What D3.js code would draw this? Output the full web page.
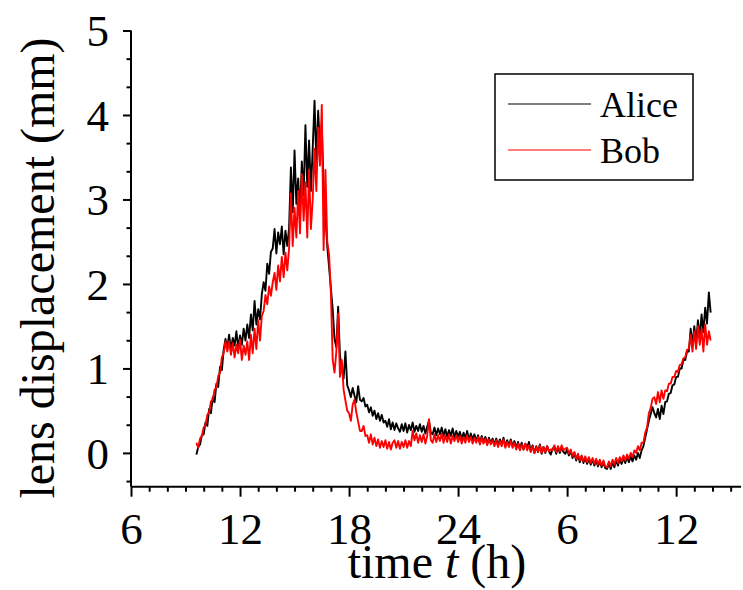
<!DOCTYPE html>
<html>
<head>
<meta charset="utf-8">
<script src="https://cdn.jsdelivr.net/npm/d3@7"></script>
<style>
  html, body { margin: 0; padding: 0; background: #fff; }
  svg { display: block; font-family: "Liberation Serif", "Times New Roman", serif; }
</style>
</head>
<body>
<svg id="chart" width="743" height="590"></svg>
<script>
// ---- data ----
const seriesNames = ["Alice", "Bob"];
const seriesColors = ["#000000", "#ff0000"];
const tStart = 9.6;      // first sample time (h)
const tStep = 0.1;       // sample spacing (h)

const alice = [
  -0.02, 0.07, 0.10, 0.21, 0.22,
  0.36, 0.32, 0.52, 0.47, 0.66, 0.60, 0.82, 0.78, 1.02, 0.98, 1.22, 1.35,
  1.24, 1.40, 1.22, 1.36, 1.27, 1.44, 1.24, 1.39, 1.28, 1.47, 1.33,
  1.52, 1.36, 1.64, 1.45, 1.80, 1.52, 1.70, 1.58,
  1.88, 2.02, 1.92, 2.24, 2.12, 2.38,
  2.42, 2.65, 2.36, 2.61, 2.47, 2.68, 2.35, 2.63, 2.45, 2.66,
  3.38, 2.85, 3.58, 2.95, 3.25, 2.80, 3.45, 3.05, 3.88, 3.15, 3.70, 3.10, 3.60, 4.17,
  3.45, 4.05, 3.60, 3.90,
  3.10, 2.80, 2.45, 2.20, 1.95, 1.70,
  1.35, 1.25, 1.73, 1.15, 1.00, 0.88, 1.20, 0.80,
  0.74, 0.66, 0.77, 0.68, 0.60, 0.79, 0.63, 0.61, 0.65, 0.55,
  0.57, 0.48, 0.54, 0.44, 0.50, 0.40, 0.47, 0.38, 0.45, 0.36,
  0.38, 0.31, 0.40, 0.28, 0.36, 0.27, 0.35, 0.29, 0.25, 0.34,
  0.26, 0.35, 0.24, 0.33, 0.27, 0.36, 0.25, 0.32, 0.26, 0.34,
  0.25, 0.32, 0.23, 0.31, 0.38, 0.24, 0.22, 0.30, 0.21, 0.29,
  0.22, 0.30, 0.20, 0.28, 0.19, 0.27, 0.20, 0.29, 0.18, 0.26,
  0.19, 0.25, 0.16, 0.24, 0.17, 0.26, 0.15, 0.23, 0.16, 0.22,
  0.14, 0.21, 0.12, 0.20, 0.13, 0.19, 0.11, 0.18, 0.12, 0.17,
  0.10, 0.17, 0.09, 0.16, 0.10, 0.18, 0.08, 0.15, 0.09, 0.16,
  0.08, 0.14, 0.06, 0.13, 0.05, 0.12, 0.04, 0.11, 0.06, 0.13,
  0.02, 0.09, 0.00, 0.08, 0.01, 0.10, -0.01, 0.07, 0.00, 0.08,
  0.02, -0.02, 0.05, 0.07, -0.01, 0.06, 0.00, 0.07, 0.01, -0.01,
  0.04, -0.03, 0.02, -0.06, 0.00, -0.09, -0.03, -0.11, -0.04, -0.12,
  -0.06, -0.13, -0.07, -0.14, -0.08, -0.15, -0.09, -0.16, -0.10, -0.17,
  -0.11, -0.18, -0.19, -0.12, -0.19, -0.11, -0.17, -0.09, -0.15, -0.08,
  -0.13, -0.06, -0.12, -0.05, -0.11, -0.04, -0.10, -0.03, -0.08, 0.00,
  -0.06, 0.03, 0.08, 0.18, 0.28, 0.38, 0.46, 0.54, 0.47, 0.42,
  0.52, 0.40, 0.56, 0.46, 0.60, 0.61, 0.70, 0.71, 0.80, 0.81,
  0.90, 0.90, 1.00, 1.00, 1.10, 1.10, 1.20, 1.20, 1.47, 1.28,
  1.50, 1.30, 1.57, 1.36, 1.64, 1.43, 1.72, 1.53, 1.90, 1.66
];

const bob = [
  0.12, 0.06, 0.17, 0.20, 0.30,
  0.33, 0.45, 0.48, 0.61, 0.63, 0.75, 0.77, 0.91, 0.95, 1.13, 1.18, 1.32,
  1.20, 1.32, 1.16, 1.30, 1.13, 1.28, 1.18, 1.34, 1.10, 1.27, 1.16,
  1.32, 1.10, 1.40, 1.18, 1.47, 1.23, 1.57, 1.33,
  1.62, 1.68, 1.87, 1.76, 1.97, 1.86,
  2.02, 2.13, 1.93, 2.22, 2.03, 2.32, 2.08, 2.37, 2.16, 2.42,
  3.07, 2.45, 2.90, 2.55, 3.10, 2.60, 3.30, 2.75, 3.20, 2.55, 3.35, 2.65, 3.00, 3.60,
  3.10, 3.85, 3.40, 4.12,
  2.40, 3.35, 2.50, 2.35, 1.90, 1.10,
  0.95, 1.20, 1.65, 0.90, 1.10, 0.75, 0.62, 0.50,
  0.47, 0.38, 0.57, 0.63, 0.48, 0.37, 0.26, 0.26, 0.32, 0.20,
  0.21, 0.12, 0.22, 0.10, 0.18, 0.08, 0.16, 0.06, 0.14, 0.07,
  0.15, 0.05, 0.13, 0.04, 0.12, 0.15, 0.06, 0.14, 0.05, 0.13,
  0.07, 0.15, 0.06, 0.14, 0.08, 0.26, 0.15, 0.23, 0.12, 0.21,
  0.13, 0.22, 0.11, 0.20, 0.40, 0.15, 0.12, 0.22, 0.13, 0.21,
  0.14, 0.23, 0.12, 0.21, 0.13, 0.22, 0.11, 0.20, 0.14, 0.21,
  0.13, 0.20, 0.11, 0.19, 0.12, 0.21, 0.13, 0.19, 0.11, 0.18,
  0.12, 0.19, 0.10, 0.18, 0.11, 0.17, 0.09, 0.16, 0.10, 0.15,
  0.08, 0.15, 0.07, 0.14, 0.08, 0.16, 0.06, 0.13, 0.07, 0.14,
  0.06, 0.12, 0.04, 0.11, 0.03, 0.10, 0.04, 0.11, 0.03, 0.09,
  0.01, 0.08, 0.00, 0.07, 0.01, 0.09, 0.00, 0.07, 0.01, 0.08,
  0.02, 0.04, 0.03, 0.09, 0.01, 0.08, 0.02, 0.09, 0.03, 0.05,
  0.06, -0.01, 0.04, -0.04, 0.01, -0.07, -0.01, -0.09, -0.03, -0.10,
  -0.04, -0.11, -0.05, -0.12, -0.06, -0.13, -0.07, -0.14, -0.08, -0.15,
  -0.09, -0.16, -0.17, -0.10, -0.16, -0.08, -0.14, -0.06, -0.12, -0.05,
  -0.10, -0.03, -0.09, -0.02, -0.07, 0.00, -0.05, 0.03, 0.00, 0.08,
  0.03, 0.12, 0.12, 0.24, 0.30, 0.47, 0.53, 0.64, 0.66, 0.58,
  0.72, 0.60, 0.74, 0.64, 0.74, 0.73, 0.82, 0.82, 0.90, 0.90,
  0.97, 0.96, 1.04, 1.05, 1.12, 1.13, 1.22, 1.23, 1.40, 1.20,
  1.44, 1.23, 1.50, 1.28, 1.47, 1.20, 1.52, 1.28, 1.44, 1.33
];

const xTickValues = [6, 12, 18, 24, 30, 36];
const xTickLabels = ["6", "12", "18", "24", "6", "12"];
const yTickValues = [0, 1, 2, 3, 4, 5];

(function () {
// ---- layout ----
const svg = d3.select("#chart");
const pL = 131, pR = 741, pT = 30.5, pB = 486.7;

const x = d3.scaleLinear().domain([6, 39.57]).range([pL, pR]);
const y = d3.scaleLinear().domain([-0.4, 5]).range([pB, pT]);

const serifFont = '"Liberation Serif", "Times New Roman", serif';

// minor ticks
const xMinor = d3.range(7, 40).filter(v => v % 6 !== 0);
const yMinor = d3.range(-1, 16).map(k => k / 3).filter(v => v >= -0.4 && Math.abs(v - Math.round(v)) > 1e-6);

// x axis
const gx = svg.append("g").attr("transform", `translate(0,${pB})`);
gx.call(d3.axisBottom(x).tickValues(xTickValues).tickFormat((d, i) => xTickLabels[i]).tickSize(10).tickPadding(15));
gx.append("g").call(d3.axisBottom(x).tickValues(xMinor).tickFormat("").tickSize(5))
  .select(".domain").remove();
gx.selectAll(".domain").attr("d", `M${pL},0H${pR}`);
gx.selectAll("path, line").attr("stroke", "#000").attr("stroke-width", 2);
gx.selectAll("text").attr("font-family", serifFont).attr("font-size", 45).attr("fill", "#000");

// y axis
const gy = svg.append("g").attr("transform", `translate(${pL},0)`);
gy.call(d3.axisLeft(y).tickValues(yTickValues).tickFormat(d3.format("d")).tickSize(8).tickPadding(14));
gy.append("g").call(d3.axisLeft(y).tickValues(yMinor).tickFormat("").tickSize(4.5))
  .select(".domain").remove();
gy.selectAll(".domain").attr("d", `M0,${pT}V${pB}`);
gy.selectAll("path, line").attr("stroke", "#000").attr("stroke-width", 2);
gy.selectAll("text").attr("font-family", serifFont).attr("font-size", 45).attr("fill", "#000").attr("dy", "0.34em");

// lines
const line = d3.line()
  .x((d, i) => x(tStart + i * tStep))
  .y(d => y(d));

[alice, bob].forEach((vals, k) => {
  svg.append("path")
    .datum(vals)
    .attr("fill", "none")
    .attr("stroke", seriesColors[k])
    .attr("stroke-width", 1.9)
    .attr("stroke-linejoin", "round")
    .attr("d", line);
});

// axis titles
const xt = svg.append("text")
  .attr("x", 437).attr("y", 578)
  .attr("text-anchor", "middle")
  .attr("font-family", serifFont).attr("font-size", 48).attr("fill", "#000");
xt.append("tspan").text("time ");
xt.append("tspan").attr("font-style", "italic").text("t");
xt.append("tspan").text(" (h)");

svg.append("text")
  .attr("transform", "translate(54,268) rotate(-90)")
  .attr("text-anchor", "middle")
  .attr("font-family", serifFont).attr("font-size", 48).attr("fill", "#000")
  .text("lens displacement (mm)");

// legend
const lg = svg.append("g");
lg.append("rect").attr("x", 495).attr("y", 74).attr("width", 198).attr("height", 106)
  .attr("fill", "#fff").attr("stroke", "#000").attr("stroke-width", 1.5);
seriesNames.forEach((name, k) => {
  const ly = 104 + k * 46;
  lg.append("line").attr("x1", 508).attr("x2", 591).attr("y1", ly).attr("y2", ly)
    .attr("stroke", seriesColors[k]).attr("stroke-width", 1.2);
  lg.append("text").attr("x", 600).attr("y", ly + 13)
    .attr("font-family", serifFont).attr("font-size", 36).attr("fill", "#000")
    .text(name);
});
})();
</script>
</body>
</html>
